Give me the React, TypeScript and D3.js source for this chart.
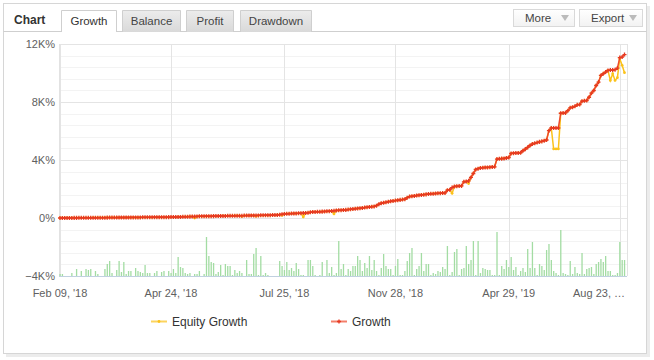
import React from "react";
import * as d3 from "d3";

const growth: number[] = [
  0, 0, 2, 3, 5, 6, 8, 9, 10, 12,
  13, 14, 15, 16, 18, 20, 21, 22, 24, 25,
  26, 27, 28, 30, 31, 32, 33, 34, 36, 37,
  38, 39, 40, 41, 42, 44, 45, 46, 48, 50,
  52, 53, 54, 55, 56, 58, 60, 62, 64, 66,
  70, 75, 80, 85, 90, 95, 100, 105, 110, 115,
  118, 120, 122, 125, 128, 130, 132, 135, 138, 140,
  145, 148, 150, 152, 155, 158, 160, 162, 165, 168,
  170, 172, 175, 178, 180, 182, 185, 188, 190, 195,
  200, 205, 210, 230, 260, 280, 290, 300, 305, 310,
  315, 320, 330, 340, 350, 360, 390, 415, 420, 425,
  430, 440, 450, 460, 470, 480, 500, 520, 530, 540,
  550, 560, 580, 600, 620, 640, 660, 670, 690, 720,
  740, 760, 780, 800, 850, 950, 1020, 1050, 1080, 1120,
  1150, 1180, 1200, 1225, 1250, 1270, 1295, 1400, 1475, 1500,
  1520, 1550, 1570, 1590, 1610, 1630, 1650, 1670, 1680, 1690,
  1700, 1710, 1720, 1730, 1920, 1950, 2100, 2170, 2190, 2200,
  2215, 2495, 2520, 2560, 2800, 3070, 3345, 3400, 3450, 3470,
  3485, 3490, 3500, 3520, 3530, 4065, 4080, 4095, 4105, 4140,
  4175, 4455, 4470, 4480, 4490, 4500, 4640, 4750, 4870, 5000,
  5105, 5150, 5200, 5250, 5285, 5330, 5380, 6025, 6210, 6210,
  6210, 6210, 7225, 7235, 7250, 7400, 7600, 7640, 7700, 7805,
  7825, 8055, 8080, 8105, 8330, 8610, 8795, 9140, 9370, 9835,
  9950, 10065, 10180, 10200, 10210, 10230, 10340, 11060, 11100, 11270,
];

const equity: number[] = [
  0, 0, 2, 3, 5, 6, 8, 9, 10, 12,
  13, 14, 15, 16, 18, 20, 21, 22, 24, 25,
  26, 27, 28, 30, 31, 32, 33, 34, 36, 37,
  38, 39, 40, 41, 42, 44, 45, 46, 48, 50,
  52, 53, 54, 55, 56, 58, 60, 62, 64, 66,
  70, 75, 80, 85, 90, 95, 100, 0, 110, 115,
  118, 120, 122, 125, 128, 130, 132, 135, 138, 140,
  145, 148, 150, 152, 155, 158, 160, 100, 165, 168,
  170, 172, 175, 120, 180, 182, 185, 188, 190, 195,
  200, 205, 210, 230, 180, 280, 290, 300, 305, 310,
  315, 320, 330, 70, 350, 360, 390, 415, 420, 425,
  430, 440, 450, 460, 470, 480, 280, 520, 530, 540,
  550, 560, 580, 600, 620, 640, 660, 670, 690, 720,
  740, 760, 780, 800, 850, 950, 1020, 1050, 1080, 1120,
  1150, 1180, 1200, 1225, 1250, 1270, 1295, 1400, 1475, 1500,
  1520, 1550, 1570, 1590, 1610, 1630, 1650, 1670, 1680, 1690,
  1700, 1710, 1720, 1730, 1920, 1950, 1700, 2170, 2190, 2200,
  2215, 2495, 2520, 2375, 2800, 3070, 3345, 3400, 3450, 3470,
  3485, 3490, 3500, 3520, 3530, 4065, 4080, 4095, 4105, 4140,
  4175, 4455, 4470, 4480, 4490, 4500, 4640, 4750, 4870, 5000,
  5105, 5150, 5200, 5250, 5285, 5330, 5380, 6025, 6210, 4760,
  4760, 4760, 7225, 7235, 7250, 7400, 7600, 7640, 7700, 7805,
  7825, 8055, 8080, 8105, 8330, 8610, 8795, 9140, 9370, 9835,
  9950, 10065, 10180, 9490, 9950, 9490, 9675, 10990, 10530, 10020,
];

const volume: number[] = [
  2, 2, 0, 0, 0, 3, 0, 7, 0, 5,
  0, 7, 6, 7, 0, 5, 2, 0, 0, 7,
  12, 15, 3, 0, 6, 15, 4, 14, 2, 5,
  5, 0, 8, 5, 4, 3, 11, 3, 3, 0,
  3, 5, 0, 4, 5, 0, 5, 3, 7, 3,
  19, 9, 8, 3, 2, 3, 0, 2, 2, 5,
  0, 2, 39, 20, 14, 13, 2, 4, 11, 1,
  12, 10, 10, 1, 6, 3, 5, 3, 0, 16,
  2, 2, 22, 28, 1, 20, 1, 3, 1, 0,
  0, 0, 0, 15, 10, 6, 14, 6, 8, 5,
  13, 7, 1, 1, 0, 16, 16, 10, 1, 0,
  1, 14, 0, 16, 3, 9, 1, 3, 35, 7,
  12, 1, 7, 5, 10, 10, 20, 16, 5, 13,
  8, 20, 6, 16, 5, 1, 8, 22, 10, 7,
  7, 1, 10, 17, 1, 1, 5, 15, 23, 28,
  1, 7, 10, 23, 5, 12, 12, 1, 3, 2,
  5, 4, 9, 7, 30, 1, 4, 24, 27, 1,
  7, 8, 30, 12, 16, 35, 1, 35, 3, 8,
  7, 6, 6, 1, 1, 44, 1, 10, 7, 16,
  9, 19, 6, 9, 1, 5, 8, 4, 27, 8,
  34, 8, 1, 12, 10, 6, 26, 32, 16, 5,
  3, 1, 46, 3, 2, 1, 15, 2, 9, 3,
  2, 23, 2, 7, 8, 9, 2, 12, 14, 17,
  14, 20, 5, 5, 1, 1, 3, 34, 16, 16,
];

const xTickIndex: number[] = [0, 47, 95, 142, 190, 237];
const xTickLabels: string[] = ["Feb 09, '18", "Apr 24, '18", "Jul 25, '18", "Nov 28, '18", "Apr 29, '19", "Aug 23, …"];
const yTicks: number[] = [-4000, 0, 4000, 8000, 12000];
const yTickLabels: string[] = ["−4K%", "0%", "4K%", "8K%", "12K%"];
const tabs: string[] = ["Growth", "Balance", "Profit", "Drawdown"];
const seriesNames: string[] = ["Equity Growth", "Growth"];

const FONT = "'Liberation Sans', Arial, sans-serif";
const RED = "#ef4a2c";
const YEL = "#fbc21b";

export default function App() {
  const left = 59, right = 627, top = 44, bottom = 276;
  const x = d3.scaleLinear().domain([0, growth.length - 1]).range([60, 624.5]);
  const y = d3.scaleLinear().domain([-4000, 12000]).range([bottom, top]);
  const yv = d3.scaleLinear().domain([0, 50]).range([bottom, bottom - 50]);

  const line = d3.line<number>().x((_, i) => x(i)).y((d) => y(d));
  const minor = d3.range(-4000, 12001, 800);
  const cross = d3.symbol().type(d3.symbolCross).size(9)();
  const dot = d3.symbol().type(d3.symbolCircle).size(6)();

  const tabX = [61, 122, 186, 240];
  const tabW = [56, 59, 48, 72];

  return (
    <div style={{ position: "fixed", left: 0, top: 0 }}>
      <svg width={654} height={360} style={{ display: "block", fontFamily: FONT }}>
        <defs>
          <linearGradient id="tabg" x1="0" y1="0" x2="0" y2="1">
            <stop offset="0" stopColor="#ececec" />
            <stop offset="1" stopColor="#d9d9d9" />
          </linearGradient>
          <linearGradient id="btng" x1="0" y1="0" x2="0" y2="1">
            <stop offset="0" stopColor="#ffffff" />
            <stop offset="1" stopColor="#f2f2f2" />
          </linearGradient>
        </defs>
        <rect x={0} y={0} width={654} height={360} fill="#fff" />
        {/* shadow */}
        <rect x={6} y={6} width={644} height={351} fill="#ececec" />
        <rect x={3.5} y={3.5} width={643} height={350} fill="#fff" stroke="#d6d6d6" />
        {/* header */}
        <text x={14} y={24} fontSize={12} fontWeight="bold" fill="#333">Chart</text>
        <line x1={3.5} x2={646.5} y1={31.5} y2={31.5} stroke="#cfcfcf" />
        {tabs.map((t, i) => {
          const active = i === 0;
          return (
            <g key={t}>
              <path
                d={`M${tabX[i] + 0.5},32 V10.5 H${tabX[i] + tabW[i] - 0.5} V32`}
                fill={active ? "#fff" : "url(#tabg)"}
                stroke="#cfcfcf"
              />
              {active && <rect x={tabX[i] + 1} y={30} width={tabW[i] - 2} height={3} fill="#fff" />}
              <text x={tabX[i] + tabW[i] / 2} y={25} fontSize={11.5} textAnchor="middle" fill={active ? "#333" : "#444"}>{t}</text>
            </g>
          );
        })}
        {[{ l: "More", x0: 513, w: 61 }, { l: "Export", x0: 579, w: 63 }].map((b) => (
          <g key={b.l}>
            <rect x={b.x0 + 0.5} y={9.5} width={b.w} height={17} fill="url(#btng)" stroke="#d9d9d9" />
            <text x={b.x0 + 12} y={22} fontSize={11.5} fill="#444">{b.l}</text>
            <path d={`M${b.x0 + b.w - 13},15 h8 l-4,6 z`} fill="#bbb" />
          </g>
        ))}

        {/* grid */}
        {minor.map((v) => (
          <line key={"m" + v} x1={left} x2={right} y1={Math.round(y(v)) + 0.5} y2={Math.round(y(v)) + 0.5} stroke="#f3f3f3" />
        ))}
        {yTicks.map((v) => (
          <line key={"g" + v} x1={left} x2={right} y1={Math.round(y(v)) + 0.5} y2={Math.round(y(v)) + 0.5} stroke="#e4e4e4" />
        ))}
        {xTickIndex.map((t) => (
          <line key={"v" + t} x1={Math.round(x(t)) + 0.5} x2={Math.round(x(t)) + 0.5} y1={top} y2={bottom} stroke="#e4e4e4" />
        ))}
        <line x1={left + 0.5} x2={left + 0.5} y1={top} y2={bottom} stroke="#e2e2e2" />
        <line x1={right + 0.5} x2={right + 0.5} y1={top} y2={bottom} stroke="#e2e2e2" />

        {/* volume bars */}
        {volume.map((v, i) => (
          <rect key={"b" + i} x={x(i) - 0.6} width={1.3} y={yv(v)} height={bottom - yv(v)} fill="#a3dca3" />
        ))}
        <line x1={left} x2={right} y1={bottom + 0.5} y2={bottom + 0.5} stroke="#c0d0e0" />

        {/* lines */}
        <path d={line(equity) || ""} fill="none" stroke={YEL} strokeWidth={1.5} />
        {equity.map((v, i) => (
          <path key={"e" + i} d={dot} transform={`translate(${x(i)},${y(v)})`} fill={YEL} />
        ))}
        <path d={line(growth) || ""} fill="none" stroke={RED} strokeWidth={1.5} />
        {growth.map((v, i) => (
          <path key={"g" + i} d={cross} transform={`translate(${x(i)},${y(v)})`} fill="#e63a22" />
        ))}

        {/* axis labels */}
        {yTicks.map((v, i) => (
          <text key={"yl" + v} x={55} y={y(v) + 4} fontSize={11} textAnchor="end" fill="#606060">{yTickLabels[i]}</text>
        ))}
        {xTickIndex.map((t, i) => {
          const last = i === xTickIndex.length - 1;
          return (
            <text key={"xl" + t} x={last ? 625 : x(t)} y={297} fontSize={11} textAnchor={last ? "end" : "middle"} fill="#606060">
              {xTickLabels[i]}
            </text>
          );
        })}

        {/* legend */}
        {seriesNames.map((n, i) => {
          const lx = i === 0 ? 151 : 331;
          const c = i === 0 ? YEL : RED;
          return (
            <g key={n}>
              <line x1={lx} x2={lx + 16} y1={321.5} y2={321.5} stroke={c} strokeWidth={2} opacity={0.7} />
              <path d={i === 0 ? dot : cross} transform={`translate(${lx + 8},321.5)`} fill={i === 0 ? YEL : "#e63a22"} />
              <text x={lx + 21} y={326} fontSize={12} fill="#333">{n}</text>
            </g>
          );
        })}
      </svg>
    </div>
  );
}
